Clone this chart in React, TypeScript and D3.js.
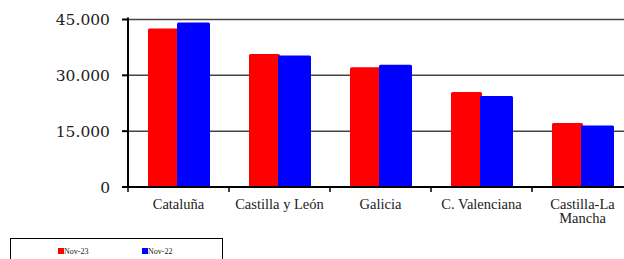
import React, { useEffect, useRef } from 'react'
import * as d3 from 'd3'

const categories = ['Cataluña', 'Castilla y León', 'Galicia', 'C. Valenciana', 'Castilla-La Mancha']
const nov23 = [42600, 35700, 32200, 25500, 17200]
const nov22 = [44200, 35350, 32850, 24450, 16500]
const seriesNames = ['Nov-23', 'Nov-22']
const seriesColors = ['#ff0000', '#0000ff']
const yTicks = [0, 15000, 30000, 45000]

const labelLines: Record<string, string[]> = {
  'Castilla-La Mancha': ['Castilla-La', 'Mancha'],
}

const App = () => {
  const ref = useRef<SVGSVGElement>(null)
  const width = 624
  const height = 259

  useEffect(() => {
    const svg = d3.select(ref.current)
    svg.selectAll('*').remove()

    const left = 128
    const right = 633
    const top = 19.5
    const bottom = 187

    const x = d3.scaleBand().domain(categories).range([left, right]).paddingInner(0).paddingOuter(0)
    const y = d3.scaleLinear().domain([0, 45000]).range([bottom, top])

    // gridlines
    svg.append('g')
      .selectAll('line')
      .data(yTicks.filter(d => d > 0))
      .join('line')
      .attr('x1', left)
      .attr('x2', width)
      .attr('y1', d => y(d))
      .attr('y2', d => y(d))
      .attr('stroke', '#444')
      .attr('stroke-width', 1.5)

    const barW = 31
    const series = [nov23, nov22]
    series.forEach((vals, si) => {
      svg.append('g')
        .selectAll('rect')
        .data(vals)
        .join('rect')
        .attr('x', (d, i) => (x(categories[i]) as number) + 20 + si * 29)
        .attr('y', d => y(d))
        .attr('width', barW + si * 2)
        .attr('height', d => bottom - y(d))
        .attr('rx', 1.5)
        .attr('fill', seriesColors[si])
    })

    // y axis
    const yAxis = svg.append('g')
    yAxis.append('line')
      .attr('x1', left).attr('x2', left)
      .attr('y1', top - 2).attr('y2', bottom + 1)
      .attr('stroke', '#000').attr('stroke-width', 2)
    yAxis.selectAll('line.tick')
      .data(yTicks)
      .join('line')
      .attr('class', 'tick')
      .attr('x1', left - 6).attr('x2', left)
      .attr('y1', d => y(d)).attr('y2', d => y(d))
      .attr('stroke', '#000').attr('stroke-width', 2)
    yAxis.selectAll('text')
      .data(yTicks)
      .join('text')
      .attr('x', 110)
      .attr('y', d => y(d) + 5.5)
      .attr('text-anchor', 'end')
      .attr('font-family', 'DejaVu Serif')
      .attr('font-size', 15.5)
      .attr('fill', '#222')
      .text(d => d3.format(',')(d).replace(/,/g, '.'))

    // x axis
    const xAxis = svg.append('g')
    xAxis.append('line')
      .attr('x1', left - 6).attr('x2', width)
      .attr('y1', bottom).attr('y2', bottom)
      .attr('stroke', '#000').attr('stroke-width', 2)
    xAxis.selectAll('line.tick')
      .data(categories)
      .join('line')
      .attr('class', 'tick')
      .attr('x1', d => x(d) as number).attr('x2', d => x(d) as number)
      .attr('y1', bottom).attr('y2', bottom + 5)
      .attr('stroke', '#000').attr('stroke-width', 1.5)
    const labels = xAxis.selectAll('text')
      .data(categories)
      .join('text')
      .attr('text-anchor', 'middle')
      .attr('font-family', 'Liberation Serif')
      .attr('font-size', 14.5)
      .attr('fill', '#222')
    labels.each(function (d) {
      const lines = labelLines[d] || [d]
      const cx = (x(d) as number) + x.bandwidth() / 2
      d3.select(this).selectAll('tspan')
        .data(lines)
        .join('tspan')
        .attr('x', cx)
        .attr('y', (l, i) => 209 + i * 14)
        .text(l => l)
    })

    // legend
    const lg = svg.append('g')
    lg.append('rect')
      .attr('x', 10.5).attr('y', 238.5)
      .attr('width', 212).attr('height', 40)
      .attr('fill', '#fff').attr('stroke', '#000').attr('stroke-width', 1)
    seriesNames.forEach((name, i) => {
      const lx = 58 + i * 84
      lg.append('rect')
        .attr('x', lx).attr('y', 248).attr('width', 6).attr('height', 6)
        .attr('fill', seriesColors[i])
      lg.append('text')
        .attr('x', lx + 6).attr('y', 254)
        .attr('font-family', 'Liberation Serif')
        .attr('font-size', 8)
        .attr('fill', '#222')
        .text(name)
    })
  }, [])

  return (
    <div id="chartArea" style={{ position: 'absolute', left: 0, top: 0 }}>
      <svg ref={ref} width={width} height={height} style={{ display: 'block', background: '#fff' }}></svg>
    </div>
  )
}

export default App
